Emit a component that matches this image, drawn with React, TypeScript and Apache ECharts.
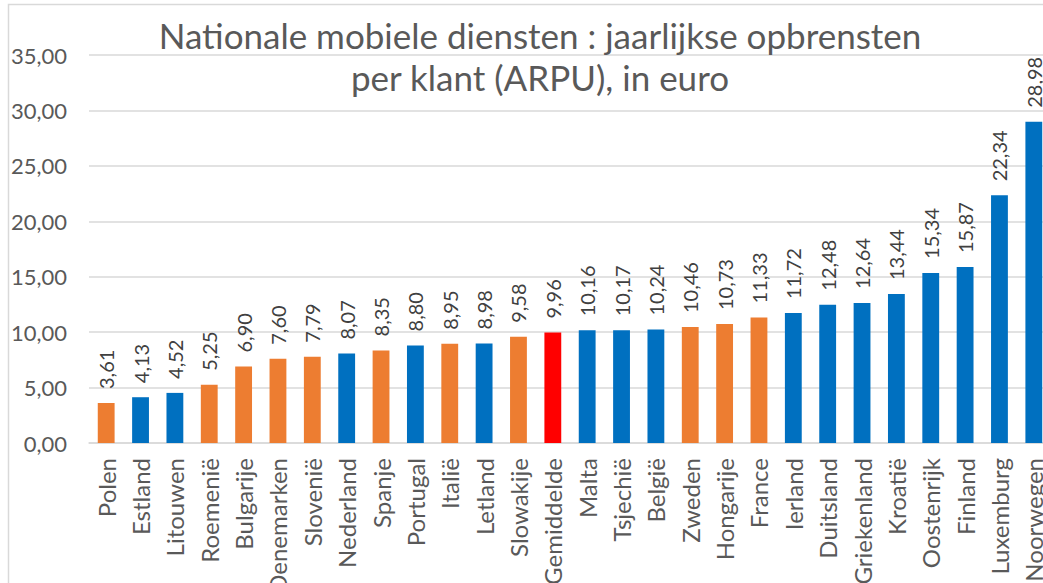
import React, { useEffect, useRef } from "react";
import * as echarts from "echarts";

const categories = [
  "Polen", "Estland", "Litouwen", "Roemenië", "Bulgarije", "Denemarken", "Slovenië",
  "Nederland", "Spanje", "Portugal", "Italië", "Letland", "Slowakije", "Gemiddelde",
  "Malta", "Tsjechië", "België", "Zweden", "Hongarije", "France", "Ierland",
  "Duitsland", "Griekenland", "Kroatië", "Oostenrijk", "Finland", "Luxemburg", "Noorwegen",
];

const values = [
  3.61, 4.13, 4.52, 5.25, 6.9, 7.6, 7.79,
  8.07, 8.35, 8.8, 8.95, 8.98, 9.58, 9.96,
  10.16, 10.17, 10.24, 10.46, 10.73, 11.33, 11.72,
  12.48, 12.64, 13.44, 15.34, 15.87, 22.34, 28.98,
];

// group of each bar: o = orange, b = blue, r = average (red)
const groups = [
  "o", "b", "b", "o", "o", "o", "o",
  "b", "o", "b", "o", "b", "o", "r",
  "b", "b", "b", "o", "o", "o", "b",
  "b", "b", "b", "b", "b", "b", "b",
];

const yTicks = { min: 0, max: 35, interval: 5 };

const title = "Nationale mobiele diensten : jaarlijkse opbrensten\nper klant (ARPU), in euro";

const groupColors: Record<string, string> = { o: "#ED7D31", b: "#0070C0", r: "#FF0000" };

const fmt = (v: number) => v.toFixed(2).replace(".", ",");

export default function App() {
  const ref = useRef<HTMLDivElement>(null);
  useEffect(() => {
    if (!ref.current) return;
    const chart = echarts.init(ref.current, null, { renderer: "svg" });
    const font = "Lato, 'Noto Sans', sans-serif";
    chart.setOption({
      animation: false,
      backgroundColor: "#ffffff",
      textStyle: { fontFamily: font },
      graphic: [
        {
          type: "rect",
          shape: { x: 8.5, y: 4.5, width: 1200, height: 800 },
          style: { fill: "none", stroke: "#d9d9d9", lineWidth: 1.5 },
          silent: true,
          z: -1,
        },
        {
          type: "text",
          x: 540,
          y: 56,
          style: {
            text: title,
            fontFamily: font,
            fontSize: 35,
            fill: "#595959",
            textAlign: "center",
            textVerticalAlign: "middle",
            lineHeight: 42,
          },
          z: 10,
        },
      ],
      grid: {
        left: 89,
        right: -8,
        top: 55,
        bottom: 140,
        containLabel: false,
        outerBoundsMode: "none",
      },
      xAxis: {
        type: "category",
        data: categories,
        axisLine: { lineStyle: { color: "#d9d9d9", width: 1.5 } },
        axisTick: { show: false },
        axisLabel: {
          rotate: 90,
          interval: 0,
          margin: 15,
          fontSize: 24,
          color: "#595959",
          fontFamily: font,
          hideOverlap: false,
        },
      },
      yAxis: {
        type: "value",
        min: yTicks.min,
        max: yTicks.max,
        interval: yTicks.interval,
        axisLine: { show: false },
        axisTick: { show: false },
        splitLine: { lineStyle: { color: "#d9d9d9", width: 1.5 } },
        axisLabel: {
          formatter: (v: number) => fmt(v),
          fontSize: 22,
          color: "#595959",
          margin: 22,
          fontFamily: font,
        },
      },
      series: [
        {
          type: "bar",
          barWidth: "49%",
          data: values.map((v, i) => ({
            value: v,
            itemStyle: { color: groupColors[groups[i]] },
          })),
          label: {
            show: true,
            position: "top",
            rotate: 90,
            align: "left",
            verticalAlign: "middle",
            distance: 14,
            fontSize: 20,
            color: "#404040",
            fontFamily: font,
            formatter: (p: any) => fmt(p.value),
          },
        },
      ],
    });
    return () => chart.dispose();
  }, []);
  return (
    <div
      ref={ref}
      style={{ position: "fixed", left: 0, top: 0, width: 1043, height: 583, background: "#fff" }}
    />
  );
}
